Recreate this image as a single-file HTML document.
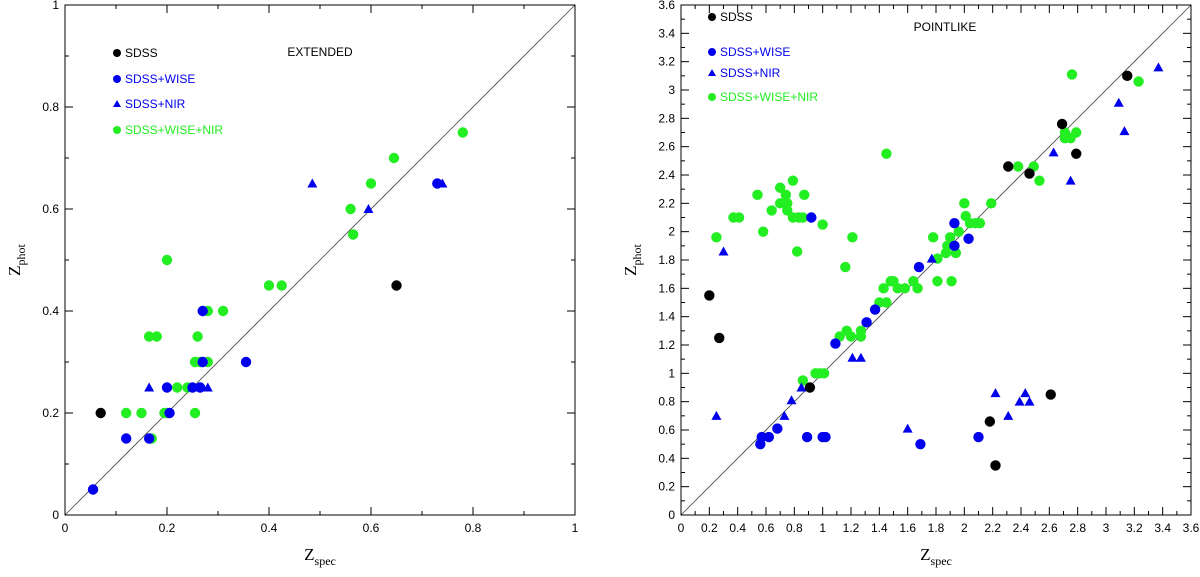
<!DOCTYPE html>
<html><head><meta charset="utf-8"><style>
body{margin:0;background:#fff;width:1200px;height:572px;overflow:hidden}
svg text{font-family:"Liberation Sans",sans-serif}
</style></head><body>
<svg id="chart" width="1200" height="572" xmlns="http://www.w3.org/2000/svg"></svg>
<script>
// LEFT (EXTENDED) data
const extSdss=[[0.07,0.2],[0.65,0.45]];
const extWise=[[0.055,0.05],[0.12,0.15],[0.165,0.15],[0.2,0.25],[0.205,0.2],[0.25,0.25],[0.265,0.25],[0.27,0.3],[0.27,0.4],[0.355,0.3],[0.73,0.65]];
const extNir=[[0.165,0.25],[0.25,0.25],[0.28,0.25],[0.485,0.65],[0.595,0.6],[0.74,0.65]];
const extAll=[[0.12,0.2],[0.15,0.2],[0.165,0.35],[0.18,0.35],[0.17,0.15],[0.2,0.5],[0.195,0.2],[0.2,0.2],[0.22,0.25],[0.24,0.25],[0.255,0.3],[0.26,0.35],[0.255,0.2],[0.265,0.3],[0.28,0.4],[0.28,0.3],[0.31,0.4],[0.4,0.45],[0.425,0.45],[0.56,0.6],[0.565,0.55],[0.6,0.65],[0.645,0.7],[0.78,0.75]];
// RIGHT (POINTLIKE) data
const ptSdss=[[0.2,1.55],[0.27,1.25],[0.91,0.9],[2.18,0.66],[2.22,0.35],[2.31,2.46],[2.46,2.41],[2.61,0.85],[2.69,2.76],[2.79,2.55],[3.15,3.1]];
const ptWise=[[0.56,0.5],[0.57,0.55],[0.62,0.55],[0.68,0.61],[0.89,0.55],[1.0,0.55],[1.02,0.55],[0.92,2.1],[1.09,1.21],[1.31,1.36],[1.37,1.45],[1.68,1.75],[1.69,0.5],[1.93,2.06],[1.93,1.9],[2.03,1.95],[2.1,0.55]];
const ptNir=[[0.25,0.7],[0.3,1.86],[0.73,0.7],[0.78,0.81],[0.85,0.9],[1.21,1.11],[1.27,1.11],[1.6,0.61],[1.77,1.81],[2.22,0.86],[2.31,0.7],[2.39,0.8],[2.43,0.86],[2.46,0.8],[2.63,2.56],[2.75,2.36],[3.09,2.91],[3.13,2.71],[3.37,3.16]];
const ptAll=[[0.25,1.96],[0.37,2.1],[0.41,2.1],[0.54,2.26],[0.58,2.0],[0.64,2.15],[0.7,2.31],[0.74,2.26],[0.7,2.2],[0.75,2.2],[0.75,2.15],[0.79,2.36],[0.79,2.1],[0.83,2.1],[0.86,2.1],[0.87,2.26],[0.82,1.86],[1.0,2.05],[1.21,1.96],[1.16,1.75],[1.45,2.55],[0.86,0.95],[0.95,1.0],[0.98,1.0],[1.01,1.0],[1.12,1.26],[1.17,1.3],[1.2,1.26],[1.27,1.3],[1.27,1.26],[1.4,1.5],[1.45,1.5],[1.43,1.6],[1.48,1.65],[1.5,1.65],[1.53,1.6],[1.58,1.6],[1.64,1.65],[1.67,1.6],[1.78,1.96],[1.81,1.81],[1.81,1.65],[1.91,1.65],[1.87,1.85],[1.94,1.85],[1.88,1.9],[1.9,1.96],[1.96,2.0],[2.0,2.2],[2.01,2.11],[2.04,2.06],[2.08,2.06],[2.11,2.06],[2.19,2.2],[2.38,2.46],[2.49,2.46],[2.53,2.36],[2.71,2.7],[2.75,2.66],[2.79,2.7],[2.71,2.66],[2.76,3.11],[3.23,3.06]];
const extTicks=[0,0.2,0.4,0.6,0.8,1];
const ptTicks=[0,0.2,0.4,0.6,0.8,1,1.2,1.4,1.6,1.8,2,2.2,2.4,2.6,2.8,3,3.2,3.4,3.6];

const NS="http://www.w3.org/2000/svg";
const svg=document.getElementById('chart');
function mk(tag,attrs,parent){const e=document.createElementNS(NS,tag);for(const k in attrs)e.setAttribute(k,attrs[k]);(parent||svg).appendChild(e);return e;}

function panel(o){
  const g=mk('g',{});
  
  
  const L=o.x0,R=o.x0+510,T=5,B=515;
  const sx=v=>L+v/o.max*510, sy=v=>B-v/o.max*510;
  const fr=mk('rect',{x:L,y:T,width:510,height:510,fill:'none',stroke:'#000','stroke-width':1},g);
  
  
  const d=mk('line',{x1:sx(0),y1:sy(0),x2:sx(o.max),y2:sy(o.max),stroke:'#444','stroke-width':0.8},g);
  
  
  const n=Math.round(o.max/0.1);
  for(let i=0;i<=n;i++){
    const v=i*0.1,maj=(i%2==0),len=maj?8:4;
    mk('line',{x1:sx(v),y1:B,x2:sx(v),y2:B-len,stroke:'#000'},g);
    mk('line',{x1:sx(v),y1:T,x2:sx(v),y2:T+len,stroke:'#000'},g);
    mk('line',{x1:L,y1:sy(v),x2:L+len,y2:sy(v),stroke:'#000'},g);
    mk('line',{x1:R,y1:sy(v),x2:R-len,y2:sy(v),stroke:'#000'},g);
  }
  o.ticks.forEach(v=>{
    const t1=mk('text',{x:sx(v),y:B+17,'font-size':12,'text-anchor':'middle'},g);t1.textContent=String(v);
    
    
    const t2=mk('text',{x:L-6,y:sy(v)+4,'font-size':12,'text-anchor':'end'},g);t2.textContent=String(v);
    
    
  });
  const xt=mk('text',{x:L+255,y:B+45,'font-size':17,'text-anchor':'middle',style:'font-family:"Liberation Serif",serif'},g);
  xt.innerHTML='Z<tspan font-size="12" dy="5">spec</tspan>';
  
  
  const yt=mk('text',{x:0,y:0,'font-size':17,'text-anchor':'middle',style:'font-family:"Liberation Serif",serif',transform:`translate(${L-45},${260}) rotate(-90)`},g);
  yt.innerHTML='Z<tspan font-size="12" dy="5">phot</tspan>';
  
  
  const tt=mk('text',{x:o.titleX,y:o.titleY,'font-size':12,'text-anchor':'middle'},g);tt.textContent=o.title;
  
  
  function circ(p,c){return mk('circle',{cx:sx(p[0]),cy:sy(p[1]),r:5.2,fill:c},g);}
  function tri(p,c){const x=sx(p[0]),y=sy(p[1]);return mk('polygon',{points:`${x},${y-5} ${x-5},${y+4} ${x+5},${y+4}`,fill:c},g);}
  o.sets.forEach(s=>s.data.forEach(p=>{
    const e=s.tri?tri(p,s.c):circ(p,s.c);
    
    
  }));
  o.legend.forEach((l,i)=>{
    const lg=mk('g',{},g);
    
    
    const y=l.y;
    if(l.tri) mk('polygon',{points:`${o.legX},${y-4} ${o.legX-4},${y+3} ${o.legX+4},${y+3}`,fill:l.c},lg);
    else mk('circle',{cx:o.legX,cy:y,r:4,fill:l.c},lg);
    const t=mk('text',{x:o.legX+8,y:y+4,'font-size':12,fill:l.c},lg);t.textContent=l.t;
  });
}
panel({name:'extended-panel',x0:65,max:1,ticks:extTicks,title:'EXTENDED',titleX:320,titleY:56,legX:117,
  sets:[{data:extAll,c:'#22ee22',mark:'sdss-wise-nir-point'},{data:extWise,c:'#0000ee',mark:'sdss-wise-point'},{data:extNir,c:'#0000ee',tri:true,mark:'sdss-nir-point'},{data:extSdss,c:'#000',mark:'sdss-point'}],
  legend:[{t:'SDSS',c:'#000',y:53},{t:'SDSS+WISE',c:'#0000ee',y:79},{t:'SDSS+NIR',c:'#0000ee',tri:true,y:104},{t:'SDSS+WISE+NIR',c:'#22ee22',y:130}]});
panel({name:'pointlike-panel',x0:681,max:3.6,ticks:ptTicks,title:'POINTLIKE',titleX:945,titleY:31,legX:712,
  sets:[{data:ptAll,c:'#22ee22',mark:'sdss-wise-nir-point'},{data:ptWise,c:'#0000ee',mark:'sdss-wise-point'},{data:ptNir,c:'#0000ee',tri:true,mark:'sdss-nir-point'},{data:ptSdss,c:'#000',mark:'sdss-point'}],
  legend:[{t:'SDSS',c:'#000',y:17},{t:'SDSS+WISE',c:'#0000ee',y:52},{t:'SDSS+NIR',c:'#0000ee',tri:true,y:73},{t:'SDSS+WISE+NIR',c:'#22ee22',y:97}]});
</script>
</body></html>
